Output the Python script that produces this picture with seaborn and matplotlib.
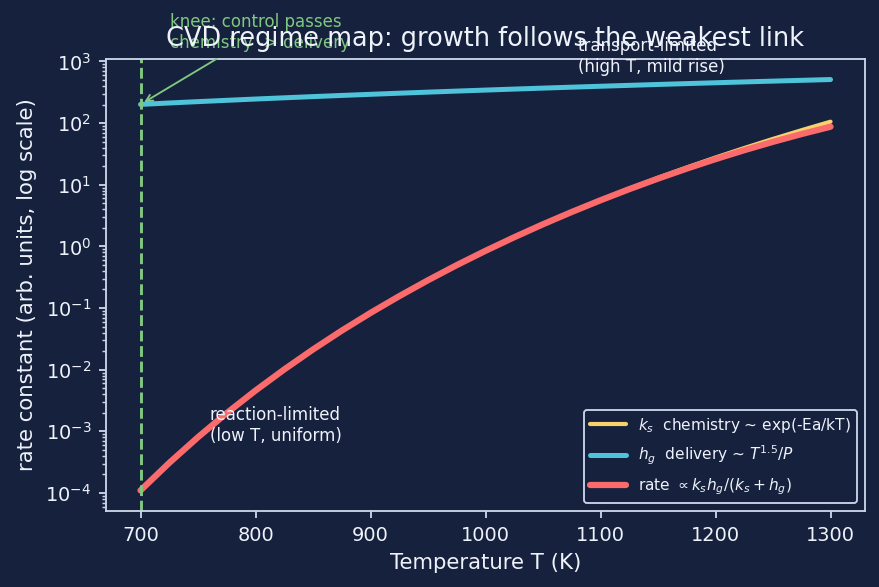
import numpy as np
import pandas as pd
import matplotlib
matplotlib.use("Agg")
import matplotlib.pyplot as plt
import seaborn as sns

# Temperatures (K) and values
temperature = [700, 725, 750, 775, 800, 825, 850, 875, 900, 925, 950, 975, 1000,
               1025, 1050, 1075, 1100, 1125, 1150, 1175, 1200, 1225, 1250, 1275, 1300]
ks_chemistry = [1.10e-4, 3.08e-4, 8.04e-4, 1.98e-3, 4.59e-3, 1.01e-2, 2.13e-2, 4.30e-2,
                8.34e-2, 0.156, 0.283, 0.498, 0.850, 1.415, 2.30, 3.65, 5.68, 8.66,
                12.96, 19.08, 27.63, 39.42, 55.43, 76.93, 105.4]
hg_delivery = [201.0, 211.9, 222.9, 234.1, 245.6, 257.2, 269.0, 280.9, 293.0, 305.3,
               317.8, 330.4, 343.2, 356.2, 369.3, 382.5, 396.0, 409.5, 423.3, 437.1,
               451.2, 465.3, 479.6, 494.1, 508.7]
rate_total = [1.10e-4, 3.08e-4, 8.04e-4, 1.98e-3, 4.59e-3, 1.01e-2, 2.13e-2, 4.30e-2,
              8.34e-2, 0.156, 0.2827, 0.4972, 0.8479, 1.409, 2.286, 3.616, 5.600, 8.481,
              12.575, 18.28, 26.04, 36.34, 49.69, 66.57, 87.31]

series_labels = [r"$k_s$  chemistry ~ exp(-Ea/kT)",
                 r"$h_g$  delivery ~ $T^{1.5}/P$",
                 r"rate $\propto k_s h_g/(k_s+h_g)$"]
title_text = "CVD regime map: growth follows the weakest link"
knee_T = 700

BG = "#16213e"
FG = "#eef2fa"
SPINE = "#c9d3e6"
YELLOW = "#f7d26b"
CYAN = "#4ec3da"
RED = "#fb6b6b"
GREEN = "#80c880"

sns.set_theme(style="dark")
plt.rcParams.update({
    "figure.facecolor": BG,
    "axes.facecolor": BG,
    "axes.edgecolor": SPINE,
    "axes.labelcolor": FG,
    "text.color": FG,
    "xtick.color": SPINE,
    "ytick.color": SPINE,
    "xtick.labelcolor": FG,
    "ytick.labelcolor": FG,
    "axes.grid": False,
    "xtick.bottom": True,
    "ytick.left": True,
})
plt.rcParams["font.family"] = ["DejaVu Sans"]

df = pd.DataFrame({"T": temperature, "ks": ks_chemistry, "hg": hg_delivery, "rate": rate_total})

fig, ax = plt.subplots(figsize=(879 / 150, 587 / 150), dpi=150)
fig.subplots_adjust(left=0.1206, right=0.9841, bottom=0.1295, top=0.8995)

sns.lineplot(data=df, x="T", y="ks", ax=ax, color=YELLOW, linewidth=2.0, label=series_labels[0])
sns.lineplot(data=df, x="T", y="hg", ax=ax, color=CYAN, linewidth=2.4, label=series_labels[1])
sns.lineplot(data=df, x="T", y="rate", ax=ax, color=RED, linewidth=3.0, label=series_labels[2])
ax.set_yscale("log")

ax.axvline(knee_T, color=GREEN, linestyle="--", linewidth=1.4)
ax.annotate("knee: control passes\nchemistry -> delivery",
            xy=(knee_T, hg_delivery[0]), xytext=(726, 1420),
            ha="left", va="bottom", fontsize=8, color=GREEN,
            arrowprops=dict(arrowstyle="->", color=GREEN, lw=0.9),
            annotation_clip=False)
ax.text(1080, 580, "transport-limited\n(high T, mild rise)", fontsize=8,
        color=FG, ha="left", va="bottom")
ax.text(760, 6.0e-4, "reaction-limited\n(low T, uniform)", fontsize=8,
        color=FG, ha="left", va="bottom")

ax.set_xticks([700, 800, 900, 1000, 1100, 1200, 1300])
ax.tick_params(axis="both", labelsize=9.3, length=3.5, width=0.9)
ax.tick_params(axis="y", which="minor", length=2, width=0.7, color=SPINE, left=True)
ax.set_xlabel("Temperature T (K)", fontsize=10.2)
ax.set_ylabel("rate constant (arb. units, log scale)", fontsize=10.2)
ax.set_title(title_text, fontsize=12.3, color=FG)
for s in ax.spines.values():
    s.set_color(SPINE)
    s.set_linewidth(0.9)

leg = ax.legend(loc="lower right", fontsize=7.4, facecolor=BG, edgecolor=SPINE,
                framealpha=1.0, labelcolor=FG, handlelength=2.3, labelspacing=0.6)
leg.get_frame().set_linewidth(0.9)

fig.savefig("out.png", dpi=150, facecolor=BG)
